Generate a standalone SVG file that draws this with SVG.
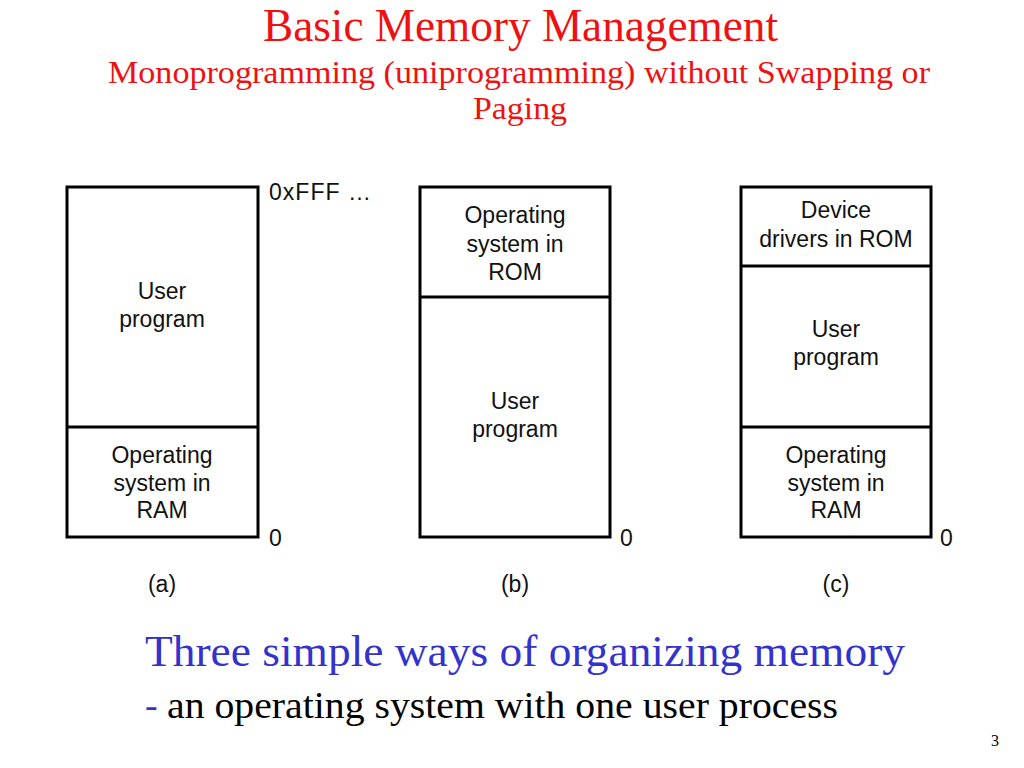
<svg xmlns="http://www.w3.org/2000/svg" width="1024" height="768" viewBox="0 0 1024 768">
<style>
.box{fill:none;stroke:#000;stroke-width:3}
.div{stroke:#000;stroke-width:3}
.lbl{font-family:"Liberation Sans",Arial,sans-serif;font-size:23px;fill:#111;text-anchor:middle}
.addr{font-family:"Liberation Sans",Arial,sans-serif;font-size:23px;fill:#111}
.tm{font-family:"Liberation Serif","Times New Roman",Times,serif}
</style>
<rect width="1024" height="768" fill="#fff"/>
<g id="title">
<text class="tm" x="263" y="41" font-size="46" fill="#ee1111" textLength="515" lengthAdjust="spacingAndGlyphs">Basic Memory Management</text>
<text class="tm" x="108" y="83" font-size="32" fill="#ee1111" textLength="822" lengthAdjust="spacingAndGlyphs">Monoprogramming (uniprogramming) without Swapping or</text>
<text class="tm" x="473" y="119" font-size="32" fill="#ee1111" textLength="94" lengthAdjust="spacingAndGlyphs">Paging</text>
</g>
<g id="memA">
<rect class="box" x="67" y="187" width="191" height="350"/>
<line class="div" x1="67" y1="427" x2="258" y2="427"/>
<text class="lbl" x="162" y="299">User</text>
<text class="lbl" x="162" y="327">program</text>
<text class="lbl" x="162" y="463">Operating</text>
<text class="lbl" x="162" y="491">system in</text>
<text class="lbl" x="162" y="518">RAM</text>
<text class="addr" x="269" y="200" textLength="102" lengthAdjust="spacing">0xFFF …</text>
<text class="addr" x="269" y="546">0</text>
<text class="lbl" x="162" y="592">(a)</text>
</g>
<g id="memB">
<rect class="box" x="420" y="187" width="190" height="350"/>
<line class="div" x1="420" y1="297" x2="610" y2="297"/>
<text class="lbl" x="515" y="223">Operating</text>
<text class="lbl" x="515" y="252">system in</text>
<text class="lbl" x="515" y="280">ROM</text>
<text class="lbl" x="515" y="409">User</text>
<text class="lbl" x="515" y="437">program</text>
<text class="addr" x="620" y="546">0</text>
<text class="lbl" x="515" y="592">(b)</text>
</g>
<g id="memC">
<rect class="box" x="741" y="187" width="190" height="350"/>
<line class="div" x1="741" y1="266" x2="931" y2="266"/>
<line class="div" x1="741" y1="427" x2="931" y2="427"/>
<text class="lbl" x="836" y="218">Device</text>
<text class="lbl" x="836" y="247">drivers in ROM</text>
<text class="lbl" x="836" y="337">User</text>
<text class="lbl" x="836" y="365">program</text>
<text class="lbl" x="836" y="463">Operating</text>
<text class="lbl" x="836" y="491">system in</text>
<text class="lbl" x="836" y="518">RAM</text>
<text class="addr" x="940" y="546">0</text>
<text class="lbl" x="836" y="592">(c)</text>
</g>
<g id="connectors"></g>
<g id="caption">
<text class="tm" x="145" y="666" font-size="44" fill="#3333cc" textLength="760" lengthAdjust="spacingAndGlyphs">Three simple ways of organizing memory</text>
<text class="tm" x="145" y="718" font-size="38" fill="#3333cc">-</text>
<text class="tm" x="167" y="718" font-size="38" fill="#000" textLength="671" lengthAdjust="spacingAndGlyphs">an operating system with one user process</text>
<text class="tm" x="991" y="746" font-size="16" fill="#000">3</text>
</g>
</svg>
